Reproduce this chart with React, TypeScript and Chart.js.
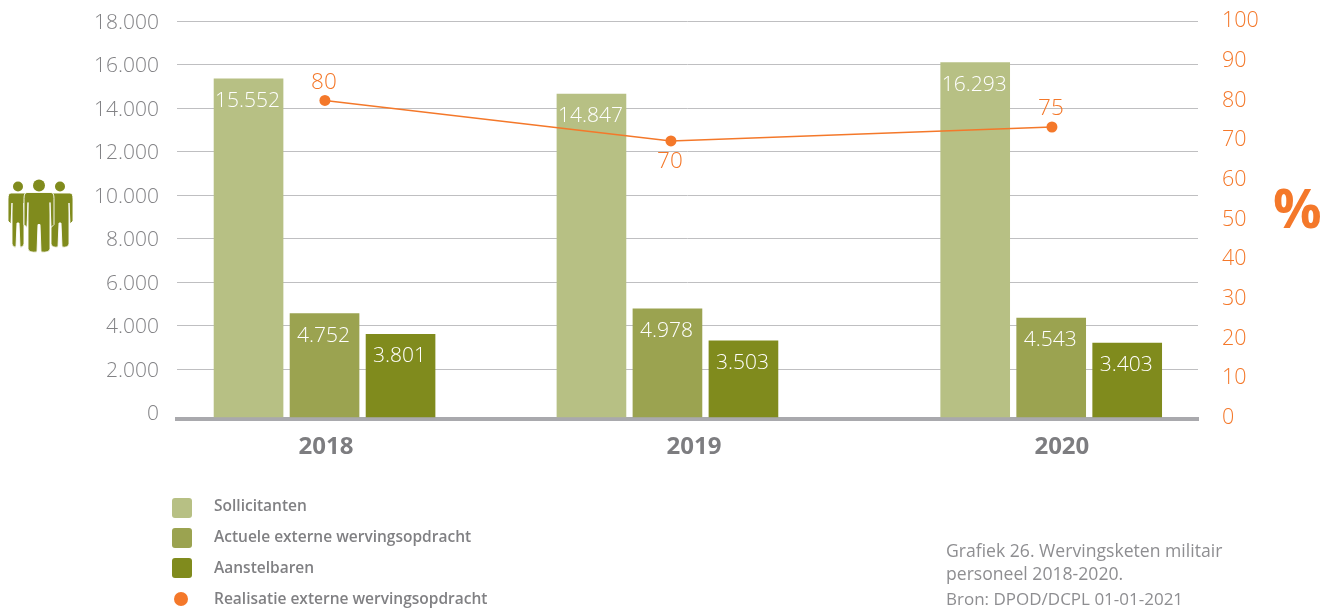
import React, { useEffect, useRef } from "react";
import { Chart, registerables } from "chart.js";

Chart.register(...registerables);

const years = [2018, 2019, 2020];
// Group centres as drawn: the bars sit off the evenly spaced year labels in the source.
const barGroupPositions = [2017.996, 2018.928, 2019.971];
const linePositions = [2017.997, 2018.9375, 2019.973];
const sollicitanten = [15552, 14847, 16293];
const actueel = [4752, 4978, 4543];
const aanstelbaren = [3801, 3503, 3403];
// Heights as drawn; the source prints 75 for the last point but plots it near 73.
const realisatieDrawn = [80, 69.8, 73.3];
const realisatieLabels = ["80", "70", "75"];
const realisatieLabelSides = ["above", "below", "above"];
const leftTicks = [0, 2000, 4000, 6000, 8000, 10000, 12000, 14000, 16000, 18000];
const rightTicks = [0, 10, 20, 30, 40, 50, 60, 70, 80, 90, 100];
const legendSeries = ["Sollicitanten", "Actuele externe wervingsopdracht", "Aanstelbaren", "Realisatie externe wervingsopdracht"];
const caption = ["Grafiek 26. Wervingsketen militair", "personeel 2018-2020."];
const source = "Bron: DPOD/DCPL 01-01-2021";

const GREY = "#828285";
const CAPTION_GREY = "#8e8e91";
const ORANGE = "#f4782a";
const BAR_COLORS = ["#b7c084", "#9ba350", "#808b1d"];
const FONT = "'Open Sans', sans-serif";

const fmt = (v: number) => String(v).replace(/\B(?=(\d{3})+$)/g, ".");

const labelsPlugin = {
  id: "valueLabels",
  afterDatasetsDraw(chart: any) {
    const { ctx } = chart;
    ctx.save();
    ctx.textAlign = "center";
    ctx.textBaseline = "middle";
    ctx.font = `300 21px ${FONT}`;
    ctx.fillStyle = "#ffffff";
    [sollicitanten, actueel, aanstelbaren].forEach((values, di) => {
      chart.getDatasetMeta(di).data.forEach((el: any, i: number) => {
        ctx.fillText(fmt(values[i]), el.x - 1, el.y + 22);
      });
    });
    ctx.font = `300 22.5px ${FONT}`;
    ctx.fillStyle = ORANGE;
    chart.getDatasetMeta(3).data.forEach((el: any, i: number) => {
      const off = realisatieLabelSides[i] === "above" ? -18 : 21;
      ctx.fillText(realisatieLabels[i], el.x - 1, el.y + off);
    });
    ctx.restore();
  },
};

function People() {
  const C = "#808b1d";
  const person = (cx: number, hy: number, r: number, t: number, b: number, w: number, arm: number, leg: number) => (
    <>
      <circle cx={cx} cy={hy} r={r} fill={C} />
      <path
        fill={C}
        stroke="#fff"
        strokeWidth={0.9}
        d={`M${cx - w + 3} ${t} H${cx + w - 3} Q${cx + w} ${t} ${cx + w} ${t + 6} V${t + arm} L${cx + w - 3} ${t + arm + 3} L${cx + w - 4} ${t + 10} V${b - 4} Q${cx + w - 5} ${b} ${cx + 2} ${b - 1} L${cx + 1} ${t + leg} H${cx - 1} L${cx - 2} ${b - 1} Q${cx - w + 5} ${b} ${cx - w + 4} ${b - 4} V${t + 10} L${cx - w + 3} ${t + arm + 3} L${cx - w} ${t + arm} V${t + 6} Q${cx - w} ${t} ${cx - w + 3} ${t} Z`}
      />
    </>
  );
  return (
    <svg width={70} height={78} viewBox="6 178 70 78" style={{ position: "absolute", left: 6, top: 178 }}>
      {person(18, 186.5, 5, 193, 248, 10, 28, 30)}
      {person(60, 186.5, 5, 193, 248, 13, 28, 30)}
      {person(39, 185.5, 6, 192.5, 253, 15, 32, 32)}
    </svg>
  );
}

const noPadding = (s: any) => {
  s.paddingTop = 0;
  s.paddingBottom = 0;
  s.paddingLeft = 0;
  s.paddingRight = 0;
};

export default function App() {
  const ref = useRef<HTMLCanvasElement>(null);
  useEffect(() => {
    const ctx = ref.current!.getContext("2d")!;
    const barDs = (label: string, values: number[], color: string) => ({
      type: "bar" as const,
      label,
      data: values.map((y, i) => ({ x: barGroupPositions[i], y })),
      backgroundColor: color,
      barThickness: 76,
      maxBarThickness: 69,
      yAxisID: "yBars",
      order: 2,
    });
    const chart = new Chart(ctx, {
      type: "bar",
      data: {
        datasets: [
          barDs(legendSeries[0], sollicitanten, BAR_COLORS[0]),
          barDs(legendSeries[1], actueel, BAR_COLORS[1]),
          barDs(legendSeries[2], aanstelbaren, BAR_COLORS[2]),
          {
            type: "line" as const,
            label: legendSeries[3],
            data: realisatieDrawn.map((y, i) => ({ x: linePositions[i], y })),
            borderColor: ORANGE,
            backgroundColor: ORANGE,
            borderWidth: 1.5,
            pointRadius: 5.5,
            pointBackgroundColor: ORANGE,
            pointBorderWidth: 0,
            tension: 0,
            yAxisID: "yRight",
            order: 1,
          },
        ] as any,
      },
      plugins: [labelsPlugin],
      options: {
        animation: false,
        responsive: false,
        events: [],
        layout: { padding: { top: 18, left: 0, right: 0, bottom: 0 } },
        plugins: { legend: { display: false }, tooltip: { enabled: false } },
        scales: {
          x: {
            type: "linear",
            offset: false,
            min: 2017.595,
            max: 2020.37,
            grid: { display: false, drawTicks: false },
            border: { display: true, color: "#a9a9ad", width: 4 },
            afterBuildTicks: (s: any) => { s.ticks = years.map((value) => ({ value })); },
            afterFit: (s: any) => { s.height = 191; noPadding(s); },
            ticks: {
              autoSkip: false,
              maxRotation: 0,
              color: "#7d7d80",
              font: { family: FONT, size: 24, weight: "bold" },
              padding: 14,
              callback: (v: any) => String(v),
            },
          },
          // Tick labels, sitting about 1.5px under their gridlines as in the source.
          y: {
            type: "linear",
            position: "left",
            min: -216,
            max: 18229,
            grid: { display: false, drawTicks: false },
            border: { display: false },
            afterBuildTicks: (s: any) => { s.ticks = leftTicks.map((value) => ({ value })); },
            afterFit: (s: any) => { s.width = 177; noPadding(s); },
            ticks: {
              autoSkip: false,
              color: GREY,
              font: { family: FONT, size: 21, weight: "300" },
              padding: 18,
              callback: (v: any) => fmt(Number(v)),
            },
          },
          // Gridlines only.
          yGrid: {
            type: "linear",
            position: "left",
            min: -285,
            max: 18160,
            grid: {
              drawTicks: false,
              color: (c: any) => (c.tick && c.tick.value === 0 ? "rgba(0,0,0,0)" : "#bfbfc1"),
              lineWidth: 1,
            },
            border: { display: false },
            afterBuildTicks: (s: any) => { s.ticks = leftTicks.map((value) => ({ value })); },
            afterFit: (s: any) => { s.width = 0; noPadding(s); },
            ticks: { display: false },
          },
          yBars: { type: "linear", display: false, min: -92, max: 18345 },
          yRight: {
            type: "linear",
            position: "right",
            min: -0.25,
            max: 100.76,
            grid: { display: false, drawTicks: false },
            border: { display: false },
            afterBuildTicks: (s: any) => { s.ticks = rightTicks.map((value) => ({ value })); },
            afterFit: (s: any) => { s.width = 133; noPadding(s); },
            ticks: {
              autoSkip: false,
              color: ORANGE,
              font: { family: FONT, size: 21.5, weight: "300" },
              padding: 24,
              callback: (v: any) => String(v),
            },
          },
        },
      } as any,
    });
    return () => chart.destroy();
  }, []);

  const rowY = [505, 536, 567, 598];
  const swatchY = [508, 538, 568, 599];
  return (
    <div style={{ position: "fixed", left: 0, top: 0, width: 1331, height: 610, overflow: "hidden", background: "#fff", fontFamily: FONT }}>
      <canvas ref={ref} width={1331} height={610} style={{ position: "absolute", left: 0, top: 0, width: 1331, height: 610 }} />
      <People />
      <div style={{ position: "absolute", left: 1273, top: 170, fontSize: 54, fontWeight: 700, color: ORANGE, lineHeight: "74px" }}>%</div>
      {legendSeries.map((name, i) => (
        <React.Fragment key={name}>
          {i < 3 ? (
            <div style={{ position: "absolute", left: 172, top: swatchY[i] - 10, width: 20, height: 20, borderRadius: 3, background: BAR_COLORS[i] }} />
          ) : (
            <div style={{ position: "absolute", left: 174, top: swatchY[i] - 7, width: 14, height: 14, borderRadius: 7, background: ORANGE }} />
          )}
          <div style={{ position: "absolute", left: 214, top: rowY[i] - 11, height: 22, lineHeight: "22px", fontSize: 15.5, fontWeight: 600, color: "#808083", whiteSpace: "nowrap" }}>{name}</div>
        </React.Fragment>
      ))}
      {caption.map((t, i) => (
        <div key={t} style={{ position: "absolute", left: 946, top: 539 + i * 23, lineHeight: "22px", fontSize: 17.6, fontWeight: 400, color: CAPTION_GREY, whiteSpace: "nowrap" }}>{t}</div>
      ))}
      <div style={{ position: "absolute", left: 946, top: 588, lineHeight: "22px", fontSize: 17, fontWeight: 400, color: CAPTION_GREY, whiteSpace: "nowrap" }}>{source}</div>
    </div>
  );
}
